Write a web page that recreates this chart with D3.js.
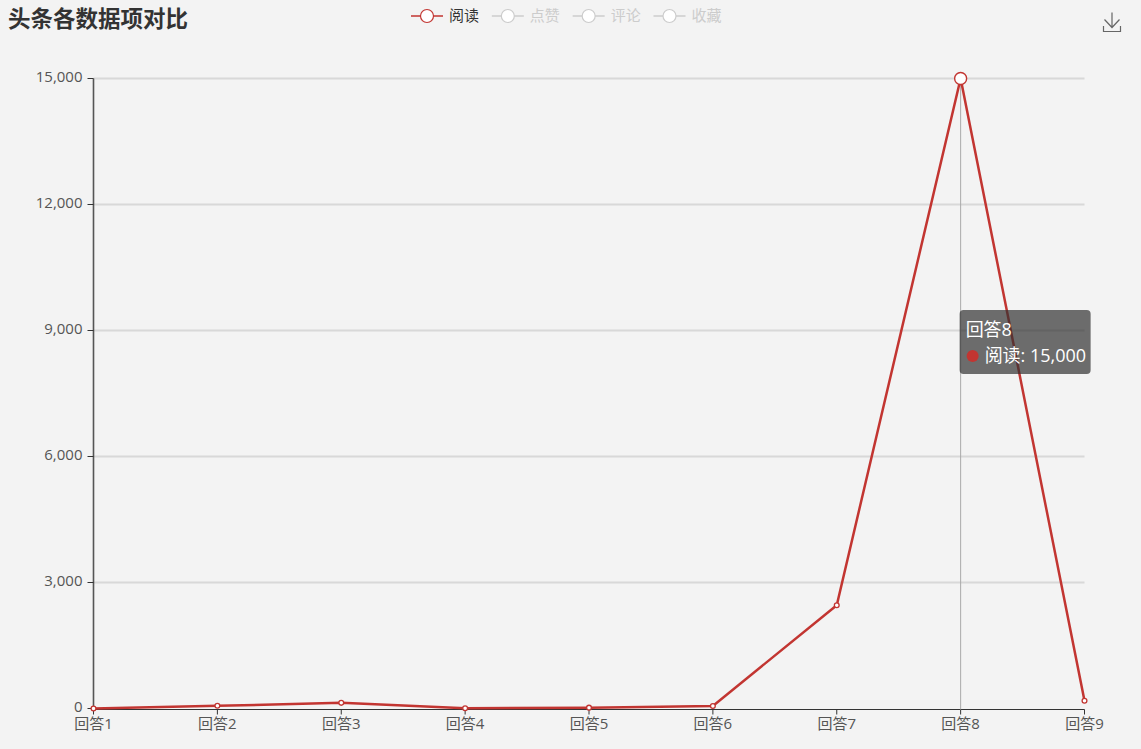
<!DOCTYPE html>
<html>
<head>
<meta charset="utf-8">
<script src="https://cdn.jsdelivr.net/npm/d3@7/dist/d3.min.js"></script>
<style>
  html, body { margin: 0; padding: 0; background: #f3f3f3; overflow: hidden; }
  text { font-family: "Open Sans", "Noto Sans CJK SC", sans-serif; }
</style>
</head>
<body>
<svg id="chart"></svg>
<script>
// values
var categories = ["回答1", "回答2", "回答3", "回答4", "回答5", "回答6", "回答7", "回答8", "回答9"];
var readValues = [0, 64, 135, 5, 20, 60, 2460, 15000, 186];
var yTicks = [0, 3000, 6000, 9000, 12000, 15000];
var legendNames = ["阅读", "点赞", "评论", "收藏"];
var activeLegend = ["阅读"];
var titleText = "头条各数据项对比";
var hoverIndex = 7;

var width = 1141,
    height = 749,
    left = 93.5,
    right = 1084.5,
    top_ = 78.5,
    bottom = 708.5,
    xAxisY = 709.5;

var red = "#c23531";
var axisColor = "#333333";
var labelColor = "#555555";

var x = d3.scalePoint().domain(categories).range([left, right]);
var y = d3.scaleLinear().domain([0, 15000]).range([bottom, top_]);

var svg = d3.select("#chart").attr("width", width).attr("height", height)
    .style("display", "block");

svg.append("text")
    .text(titleText)
    .attr("x", 8)
    .attr("y", 27)
    .style("font-size", "22.5px")
    .style("font-weight", "bold")
    .style("fill", "#333");

// legend
var legendX = d3.scalePoint().domain(legendNames).range([411, 653.5]);
var legend = svg.selectAll("g.legend")
    .data(legendNames)
    .enter().append("g")
    .attr("class", "legend")
    .attr("transform", function(d){ return "translate(" + legendX(d) + ",16)"; });
function legendColor(d){ return activeLegend.indexOf(d) >= 0 ? red : "#ccc"; }
legend.append("line")
    .attr("x1", 0).attr("x2", 32)
    .style("stroke", legendColor)
    .style("stroke-width", 1.5);
legend.append("circle")
    .attr("cx", 16).attr("r", 6.5)
    .style("fill", "#fff")
    .style("stroke", legendColor)
    .style("stroke-width", 1.2);
legend.append("text")
    .text(function(d){ return d; })
    .attr("x", 38)
    .attr("y", 5)
    .style("font-size", "15px")
    .style("fill", function(d){ return activeLegend.indexOf(d) >= 0 ? "#333" : "#ccc"; });

// save icon
var icon = svg.append("g")
    .attr("transform", "translate(1103,12)")
    .style("fill", "none")
    .style("stroke", "#666")
    .style("stroke-width", 1.2);
icon.append("path").attr("d", "M0.5,14V19.5H17.5V14");
icon.append("path").attr("d", "M9,0.5V15.5M1.5,7.5L9,15.5L16.5,7.5");

// grid
svg.append("g").selectAll("line")
    .data(yTicks.filter(function(d){ return d > 0; }))
    .enter().append("line")
    .attr("x1", left).attr("x2", right)
    .attr("y1", function(d){ return y(d); })
    .attr("y2", function(d){ return y(d); })
    .style("stroke", "#d8d8d8")
    .style("stroke-width", 1.8);

// axes
var yAxis = svg.append("g")
    .attr("transform", "translate(" + left + ",0)")
    .call(d3.axisLeft(y).offset(0).tickValues(yTicks).tickFormat(d3.format(",")).tickSize(6).tickSizeOuter(0).tickPadding(5));
var xAxis = svg.append("g")
    .attr("transform", "translate(0," + xAxisY + ")")
    .call(d3.axisBottom(x).offset(0).tickSize(5).tickSizeOuter(0).tickPadding(4));
[xAxis, yAxis].forEach(function(a){
    a.selectAll("path, line").style("stroke", axisColor);
    a.selectAll("text").style("font-size", "15px").style("fill", labelColor).style("font-family", null);
});
yAxis.select("path").style("stroke", "#555").style("stroke-width", 1.6);
xAxis.select("path").style("stroke-width", 1.2);
yAxis.selectAll("text").attr("dy", "0.22em");

// hover pointer
svg.append("line")
    .attr("x1", x(categories[hoverIndex])).attr("x2", x(categories[hoverIndex]))
    .attr("y1", top_).attr("y2", xAxisY)
    .style("stroke", "#aaa")
    .style("stroke-width", 1);

// series
var line = d3.line()
    .x(function(d, i){ return x(categories[i]); })
    .y(function(d){ return y(d); });

svg.append("path")
    .datum(readValues)
    .attr("d", line)
    .style("fill", "none")
    .style("stroke", red)
    .style("stroke-width", 2.5);

svg.append("g").selectAll("circle")
    .data(readValues)
    .enter().append("circle")
    .attr("cx", function(d, i){ return x(categories[i]); })
    .attr("cy", function(d){ return y(d); })
    .attr("r", function(d, i){ return i === hoverIndex ? 6 : 2.4; })
    .style("fill", "#fff")
    .style("stroke", red)
    .style("stroke-width", function(d, i){ return i === hoverIndex ? 1.4 : 1.3; });

// tooltip
var tipX = x(categories[hoverIndex]) - 1;
var tip = svg.append("g").attr("transform", "translate(" + tipX + ",310)");
tip.append("rect")
    .attr("width", 131).attr("height", 64).attr("rx", 4)
    .style("fill", "rgba(50,50,50,0.7)");
tip.append("text")
    .text(categories[hoverIndex])
    .attr("x", 6).attr("y", 26)
    .style("font-size", "18px")
    .style("fill", "#fff");
tip.append("circle")
    .attr("cx", 13).attr("cy", 46).attr("r", 6)
    .style("fill", red);
tip.append("text")
    .text(legendNames[0] + ": " + d3.format(",")(readValues[hoverIndex]))
    .attr("x", 25).attr("y", 52)
    .style("font-size", "18px")
    .style("fill", "#fff");
</script>
</body>
</html>
